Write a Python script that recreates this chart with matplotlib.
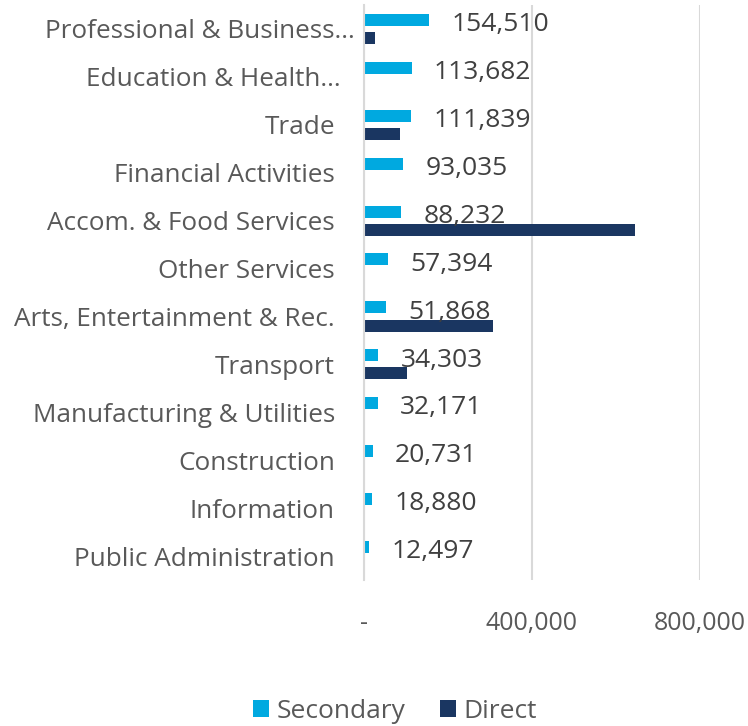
import matplotlib

matplotlib.use("Agg")
import matplotlib.pyplot as plt
import matplotlib.transforms as mtransforms
import numpy as np

plt.rcParams["font.family"] = ["Open Sans", "DejaVu Sans"]

categories = [
    "Professional & Business\u2026",
    "Education & Health\u2026",
    "Trade",
    "Financial Activities",
    "Accom. & Food Services",
    "Other Services",
    "Arts, Entertainment & Rec.",
    "Transport",
    "Manufacturing & Utilities",
    "Construction",
    "Information",
    "Public Administration",
]
secondary = [154510, 113682, 111839, 93035, 88232, 57394, 51868, 34303, 32171, 20731, 18880, 12497]
direct = [26000, 0, 86000, 0, 645000, 0, 308000, 102000, 0, 0, 0, 0]
x_ticks = [0, 400000, 800000]
x_tick_labels = ["-", "400,000", "800,000"]

sec_color = "#00A9E0"
dir_color = "#1A3661"
label_color = "#404040"
axis_text = "#595959"
grid_color = "#D9D9D9"

fig = plt.figure(figsize=(7.48, 7.26), dpi=100)
ax = fig.add_axes([364 / 748, 146 / 726, 336 / 748, 575 / 726])

pos = np.arange(len(categories))
h = 0.25
ax.barh(pos - 0.19, secondary, height=h, color=sec_color, label="Secondary")
ax.barh(pos + 0.19, direct, height=h, color=dir_color, label="Direct")

for y, v in zip(pos, secondary):
    ax.annotate(f"{v:,}", xy=(v, y - 0.09), xytext=(16, 0), textcoords="offset points",
                ha="left", va="center", fontsize=19, color=label_color)

ax.set_xlim(0, 800000)
ax.set_ylim(len(categories) - 0.5, -0.5)
ax.set_yticks(pos)
ax.set_yticklabels(categories, fontsize=18.8, color=axis_text)
ax.set_xticks(x_ticks)
ax.set_xticklabels(x_tick_labels, fontsize=18, color=axis_text)
ax.tick_params(axis="y", length=0, pad=21)
ax.tick_params(axis="x", length=0, pad=22)

# truncated labels sit a bit closer to the axis in the original
for lbl in ax.get_yticklabels():
    if lbl.get_text().endswith("\u2026"):
        shift = 20 if lbl.get_text().startswith("Prof") else 6
        lbl.set_transform(lbl.get_transform()
                          + mtransforms.ScaledTranslation(shift / 100, 0, fig.dpi_scale_trans))

ax.grid(axis="x", color=grid_color, linewidth=1.5)
ax.set_axisbelow(True)
for side in ("top", "right", "bottom"):
    ax.spines[side].set_visible(False)
ax.spines["left"].set_color(grid_color)
ax.spines["left"].set_linewidth(1.5)

fig.legend(loc="center", bbox_to_anchor=(395 / 748, 1 - 711 / 726), ncol=2, frameon=False,
           fontsize=19, handlelength=0.6, handleheight=0.6, handletextpad=0.3,
           columnspacing=1.3, labelcolor=axis_text)

fig.savefig("out.png", dpi=100, facecolor="white")
